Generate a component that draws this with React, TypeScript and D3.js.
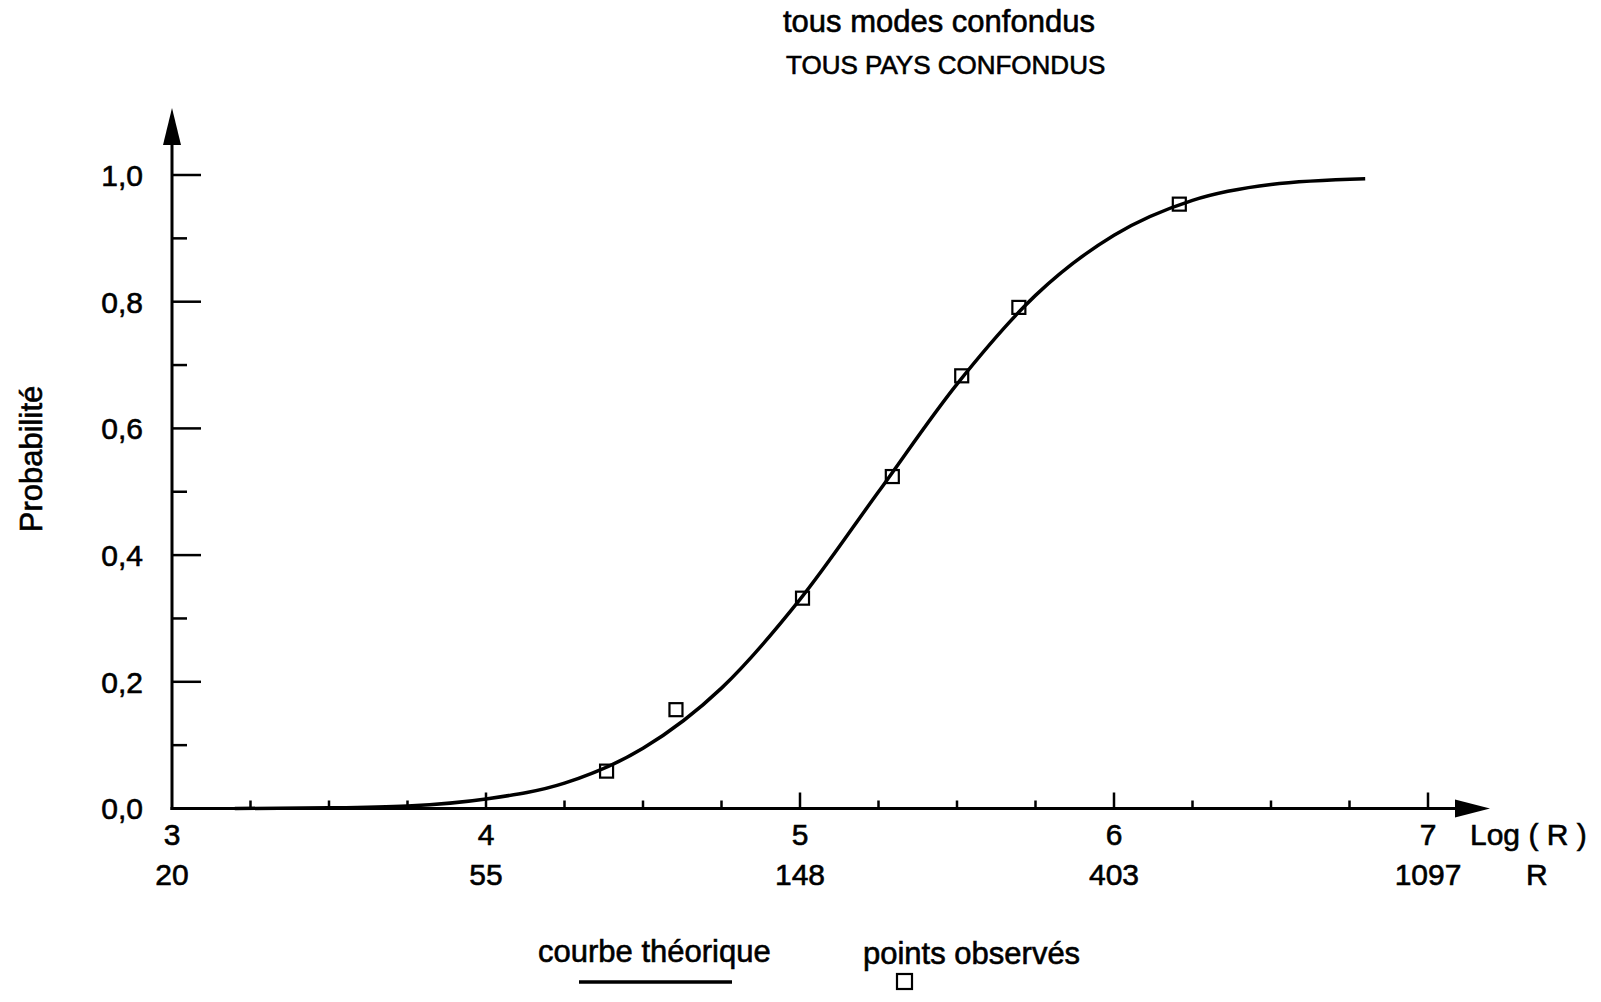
import React from "react";
import * as d3 from "d3";

// Axis ticks
const logTicks = [3, 4, 5, 6, 7];
const rLabels = ["20", "55", "148", "403", "1097"];
const probTicks = [0, 0.2, 0.4, 0.6, 0.8, 1.0];

// Observed points (log R, probability)
const obsLogR = [4.384, 4.605, 5.008, 5.294, 5.515, 5.697, 6.208];
const obsProb = [0.059, 0.156, 0.332, 0.524, 0.683, 0.791, 0.954];

// Theoretical curve, sampled along log R
const curveLogR = [3.2, 3.5, 3.75, 4.0, 4.25, 4.5, 4.75, 5.0, 5.25, 5.5, 5.75, 6.0, 6.25, 6.5, 6.8];
const curveProb = [0.0, 0.001, 0.004, 0.015, 0.04, 0.095, 0.19, 0.33, 0.5, 0.67, 0.81, 0.905, 0.96, 0.985, 0.994];

const W = 1601;
const H = 1002;
const FONT = "'Liberation Sans', Arial, Helvetica, sans-serif";

// slightly heavier glyphs, like a printed Helvetica
const ink = { fill: "#000", stroke: "#000", strokeWidth: 0.6 } as const;

export default function App() {
  const x = d3.scaleLinear().domain([3, 7]).range([172, 1428]);
  const y = d3.scaleLinear().domain([0, 1]).range([808.5, 175]);

  const x0 = x(3);
  const y0 = y(0);

  const line = d3
    .line<number>()
    .x((_, i) => x(curveLogR[i]))
    .y((_, i) => y(curveProb[i]))
    .curve(d3.curveMonotoneX);

  const xMinor = d3.range(3, 7.001, 0.25).filter((v) => Math.abs(v - Math.round(v)) > 1e-6);
  const yMinor = d3.range(0.1, 1.0, 0.2);

  const fmt = (v: number) => v.toFixed(1).replace(".", ",");

  return (
    <svg
      width={W}
      height={H}
      style={{ position: "absolute", left: 0, top: 0, background: "#fff" }}
      fontFamily={FONT}
    >
      <rect width={W} height={H} fill="#fff" />

      {/* titles */}
      <text x={783} y={32} fontSize={31} {...ink}>tous modes confondus</text>
      <text x={786} y={74} fontSize={26} {...ink}>TOUS PAYS CONFONDUS</text>

      {/* y axis */}
      <line x1={x0} y1={y0 + 1.5} x2={x0} y2={140} stroke="#000" strokeWidth={3} />
      <path d={`M${x0},108 L${x0 - 9},145 L${x0 + 9},145 Z`} fill="#000" />
      {probTicks.map((v) => (
        <g key={"yt" + v}>
          <line x1={x0} x2={x0 + 29} y1={y(v)} y2={y(v)} stroke="#000" strokeWidth={2.5} />
          <text x={143} y={y(v)} dy="0.36em" textAnchor="end" fontSize={30} {...ink}>
            {fmt(v)}
          </text>
        </g>
      ))}
      {yMinor.map((v) => (
        <line key={"ym" + v} x1={x0} x2={x0 + 15} y1={y(v)} y2={y(v)} stroke="#000" strokeWidth={2.5} />
      ))}
      <text
        transform={`translate(31,459) rotate(-90)`}
        textAnchor="middle"
        dy="0.36em"
        fontSize={31}
        {...ink}
      >
        Probabilité
      </text>

      {/* x axis */}
      <line x1={x0 - 1.5} y1={y0} x2={1460} y2={y0} stroke="#000" strokeWidth={3} />
      <path d={`M1490,${y0} L1455,${y0 - 9} L1455,${y0 + 9} Z`} fill="#000" />
      {logTicks.map((v, i) => (
        <g key={"xt" + v}>
          {i > 0 && <line x1={x(v)} x2={x(v)} y1={y0} y2={y0 - 16} stroke="#000" strokeWidth={2.5} />}
          <text x={x(v)} y={845} textAnchor="middle" fontSize={30} {...ink}>
            {v}
          </text>
          <text x={x(v)} y={885} textAnchor="middle" fontSize={30} {...ink}>
            {rLabels[i]}
          </text>
        </g>
      ))}
      {xMinor.map((v) => (
        <line key={"xm" + v} x1={x(v)} x2={x(v)} y1={y0} y2={y0 - 8} stroke="#000" strokeWidth={2.5} />
      ))}
      <text x={1470} y={845} fontSize={30} {...ink}>Log ( R )</text>
      <text x={1526} y={885} fontSize={30} {...ink}>R</text>

      {/* theoretical curve */}
      <path d={line(curveProb) || ""} fill="none" stroke="#000" strokeWidth={3.5} strokeLinejoin="round" />

      {/* observed points */}
      {obsLogR.map((v, i) => (
        <rect
          key={"p" + i}
          x={x(v) - 6.5}
          y={y(obsProb[i]) - 6.5}
          width={13}
          height={13}
          fill="none"
          stroke="#000"
          strokeWidth={2.2}
        />
      ))}

      {/* legend */}
      <text x={538} y={962} fontSize={31} {...ink}>courbe théorique</text>
      <line x1={579} x2={732} y1={982} y2={982} stroke="#000" strokeWidth={3.5} />
      <text x={863} y={964} fontSize={31} {...ink}>points observés</text>
      <rect x={897} y={974} width={15} height={15} fill="none" stroke="#000" strokeWidth={2.2} />
    </svg>
  );
}
